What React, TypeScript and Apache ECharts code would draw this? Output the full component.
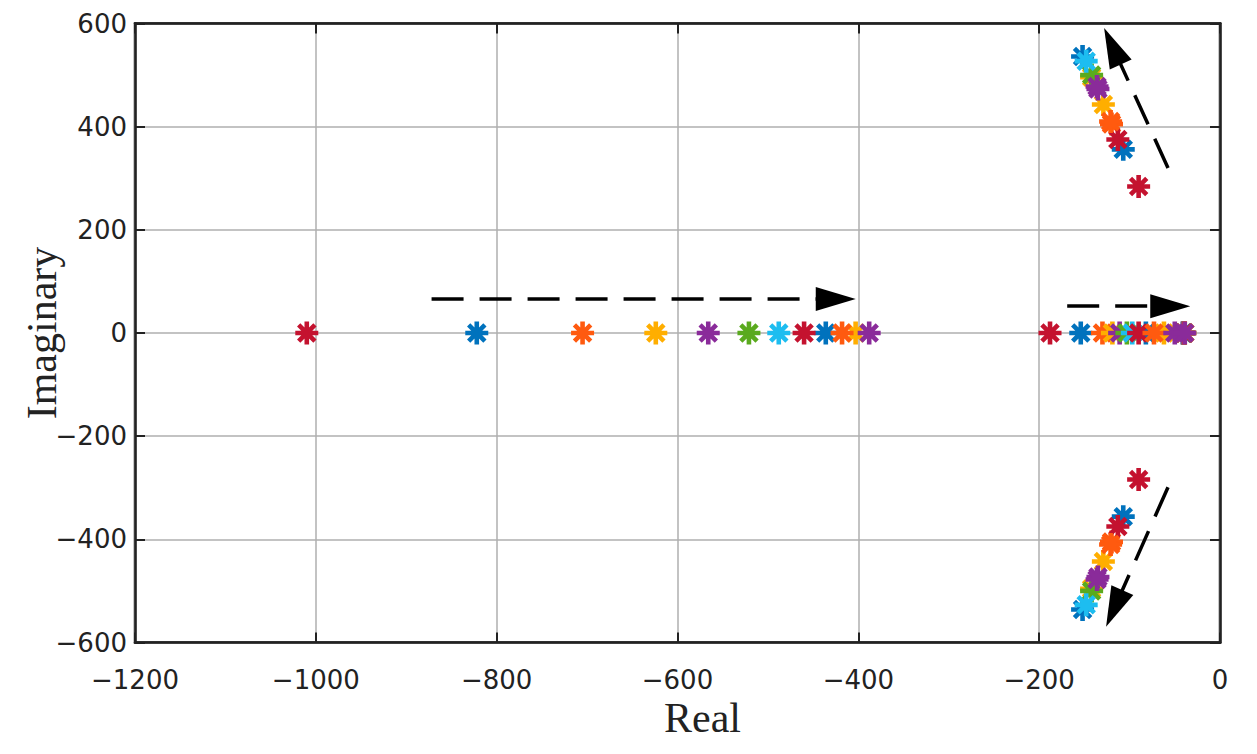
import React, { useEffect, useRef } from 'react';
import * as echarts from 'echarts';

// Pole colours, one per parameter step (12 steps)
const seriesColors = ['#C4122F', '#0072BD', '#FF5A0F', '#FFAE00', '#8A2B9A', '#5AAA1E', '#1DBDF0', '#C4122F', '#0072BD', '#FF5A0F', '#FFAE00', '#8A2B9A'];
const seriesNames = ['k1', 'k2', 'k3', 'k4', 'k5', 'k6', 'k7', 'k8', 'k9', 'k10', 'k11', 'k12'];
const seriesLayer = [2, 2, 2, 2, 2, 2, 2, 2, 1, 2, 1, 2];

// Real poles (far), real poles (near origin), real poles (very near origin)
const farReal = [-1010, -822, -705, -624, -566, -521, -488, -460, -436, -418, -403, -388];
const nearReal = [-188, -154, -130, -119, -111, -103, -97, -90, -82, -73, -62, -50];
const originReal = [-41, -41, -40, -40, -40, -40, -40, -40, -39, -39, -39, -39];
// Complex-conjugate pair: real part and imaginary part
const cplxRe = [-90, -107, -120, -129, -135, -142, -148, -113, -152, -121, -142, -136];
const cplxIm = [284, 356, 405, 443, 473, 500, 527, 375, 536, 410, 496, 478];

// Axis ranges
const xMin = -1200, xMax = 0, xStep = 200;
const yMin = -600, yMax = 600, yStep = 200;

// Direction arrows (data coordinates): start and end points
const arrowFrom = [[-872, 66], [-169, 52], [-57.5, 320], [-57.5, -299]];
const arrowTo = [[-425, 66], [-55, 52], [-119, 556], [-117, -534]];

const STAR =
  'path://M-2 -10L2 -10L2 10L-2 10Z' +
  'M10 -2L10 2L-10 2L-10 -2Z' +
  'M5.657 -8.485L8.485 -5.657L-5.657 8.485L-8.485 5.657Z' +
  'M-8.485 -5.657L-5.657 -8.485L8.485 5.657L5.657 8.485Z';

const fmt = (v: number) => (v < 0 ? '\u2212' + Math.abs(v) : String(v));

export default function App() {
  const ref = useRef<HTMLDivElement>(null);
  useEffect(() => {
    if (!ref.current) return;
    const chart = echarts.init(ref.current, undefined, { renderer: 'svg' });
    const labelStyle = { fontFamily: 'DejaVu Sans', fontSize: 26, color: '#222' };
    const nameStyle = { fontFamily: 'Liberation Serif', fontSize: 42, color: '#222' };
    const tick = { show: true, inside: true, length: 10, lineStyle: { color: '#222', width: 2 } };
    const split = { show: true, lineStyle: { color: '#AFAFAF', width: 1.5 } };
    const poleSeries = seriesNames.map((name, i) => ({
      name,
      type: 'scatter',
      z: seriesLayer[i],
      symbol: STAR,
      symbolSize: 23,
      itemStyle: { color: seriesColors[i], opacity: 1 },
      data: [
        [farReal[i], 0],
        [nearReal[i], 0],
        [originReal[i], 0],
        [cplxRe[i], cplxIm[i]],
        [cplxRe[i], -cplxIm[i]],
      ],
    }));
    const arrowSeries = {
      name: 'arrows',
      type: 'scatter',
      data: [],
      itemStyle: { color: '#000' },
      markLine: {
        silent: true,
        animation: false,
        label: { show: false },
        lineStyle: { color: '#000', width: 3.5, type: [32, 16] },
        data: arrowFrom.map((f, i) => [
          { coord: f, symbol: 'none' },
          { coord: arrowTo[i], symbol: 'triangle', symbolSize: [24, 40], itemStyle: { color: '#000' } },
        ]),
      },
    };
    chart.setOption({
      animation: false,
      backgroundColor: '#fff',
      grid: { left: 135, right: 37, top: 23.5, bottom: 111.5, show: true, borderColor: '#222', borderWidth: 2.5, backgroundColor: 'transparent' },
      xAxis: [
        {
          type: 'value', min: xMin, max: xMax, interval: xStep, position: 'bottom',
          name: 'Real', nameLocation: 'middle', nameGap: 54, nameMoveOverlap: false,
          nameTextStyle: { ...nameStyle, padding: [0, 0, 0, 50] },
          axisLine: { show: true, onZero: false, lineStyle: { color: '#222', width: 2.5 } },
          axisTick: tick, splitLine: split,
          axisLabel: { ...labelStyle, margin: 24, formatter: fmt },
        },
        {
          type: 'value', min: xMin, max: xMax, interval: xStep, position: 'top',
          axisLine: { show: true, onZero: false, lineStyle: { color: '#222', width: 2.5 } },
          axisTick: tick, splitLine: { show: false }, axisLabel: { show: false },
        },
      ],
      yAxis: [
        {
          type: 'value', min: yMin, max: yMax, interval: yStep, position: 'left',
          name: 'Imaginary', nameLocation: 'middle', nameGap: 72, nameMoveOverlap: false,
          nameTextStyle: nameStyle,
          axisLine: { show: true, onZero: false, lineStyle: { color: '#222', width: 2.5 } },
          axisTick: tick, splitLine: split,
          axisLabel: { ...labelStyle, margin: 8, formatter: fmt },
        },
        {
          type: 'value', min: yMin, max: yMax, interval: yStep, position: 'right',
          axisLine: { show: true, onZero: false, lineStyle: { color: '#222', width: 2.5 } },
          axisTick: tick, splitLine: { show: false }, axisLabel: { show: false },
        },
      ],
      series: [...poleSeries, arrowSeries],
    });
    return () => chart.dispose();
  }, []);
  return (
    <div
      ref={ref}
      style={{ position: 'absolute', left: 0, top: 0, width: 1257, height: 754, background: '#fff' }}
    />
  );
}
